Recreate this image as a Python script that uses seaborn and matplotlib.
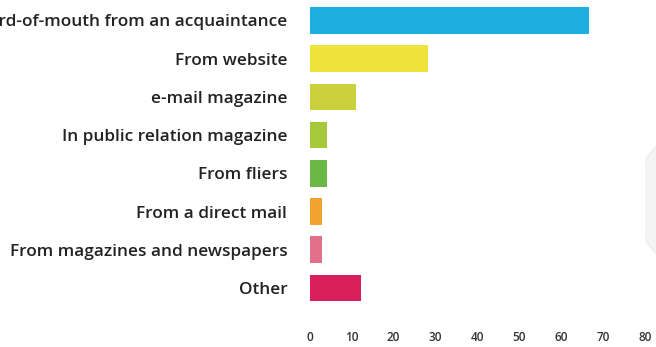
import matplotlib
matplotlib.use("Agg")
import matplotlib.pyplot as plt
import seaborn as sns
import pandas as pd
from matplotlib.patches import Ellipse

categories = [
    "Word-of-mouth from an acquaintance",
    "From website",
    "e-mail magazine",
    "In public relation magazine",
    "From fliers",
    "From a direct mail",
    "From magazines and newspapers",
    "Other",
]
values = [66.6, 28.3, 11.1, 4.1, 4.1, 3.0, 3.0, 12.2]
colors = ["#1EAEDF", "#EEE33A", "#CBD03D", "#A5C93B", "#6CB845", "#F0A330", "#E2708A", "#D81E5B"]
xticks = [0, 10, 20, 30, 40, 50, 60, 70, 80]

df = pd.DataFrame({"category": categories, "value": values})

sns.set_theme(style="white")
plt.rcParams["font.family"] = ["Open Sans", "DejaVu Sans"]

W, H = 656, 347
fig = plt.figure(figsize=(W / 100, H / 100), dpi=100)
ax = fig.add_axes([309.5 / W, (H - 307) / H, (645 - 309.5) / W, 305.6 / H])

sns.barplot(data=df, x="value", y="category", hue="category", palette=colors,
            width=0.7, legend=False, ax=ax, saturation=1, linewidth=0)

ax.set_xlim(0, 80)
ax.set_ylim(7.5, -0.5)
ax.set_xticks(xticks)
ax.set_xticklabels([str(t) for t in xticks], fontsize=8.5, fontweight="semibold", color="#333333")
ax.set_yticks(range(len(categories)))
ax.set_yticklabels(categories, fontsize=12.4, fontweight="semibold", color="#222222")
ax.tick_params(axis="x", length=0, pad=17)
ax.tick_params(axis="y", length=0, pad=16)
ax.set_xlabel("")
ax.set_ylabel("")
for s in ax.spines.values():
    s.set_visible(False)
ax.grid(False)

# faint edge of a neighbouring circular graphic at the right border
circ = Ellipse((705 / W, (H - 200) / H), 140 / W, 150 / H, transform=fig.transFigure,
               facecolor="#F4F4F4", edgecolor="#EBEBEB", lw=0.8, zorder=-1)
fig.patches.append(circ)

fig.savefig("out.png", dpi=100)
